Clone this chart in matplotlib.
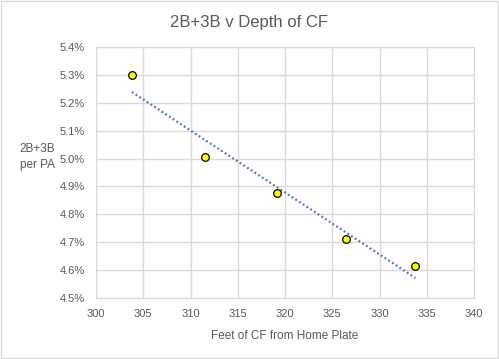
import matplotlib.pyplot as plt
import numpy as np
from matplotlib.patches import Rectangle

# feet of CF from home plate vs 2B+3B per PA (percent)
depth = [303.8, 311.5, 319.2, 326.5, 333.8]
xbh_pct = [5.30, 5.004, 4.878, 4.712, 4.614]

x_ticks = [300, 305, 310, 315, 320, 325, 330, 335, 340]
y_ticks = [4.5, 4.6, 4.7, 4.8, 4.9, 5.0, 5.1, 5.2, 5.3, 5.4]

plt.rcParams['font.family'] = ['Liberation Sans', 'DejaVu Sans']
txt = '#595959'

fig = plt.figure(figsize=(4.99, 3.59), dpi=100)
ax = fig.add_axes([96 / 499, 1 - 298 / 359, 378 / 499, 251 / 359])

# chart border
fig.patches.append(Rectangle((0.002, 0.003), 0.995, 0.994, transform=fig.transFigure,
                             fill=False, edgecolor='#d9d9d9', linewidth=1))

# linear trendline
k, b = np.polyfit(depth, xbh_pct, 1)
tx = np.array([depth[0], depth[-1]])
ax.plot(tx, k * tx + b, color='#4472C4', linewidth=1.6,
        linestyle=(0, (0.8, 1.2)), dash_capstyle='butt', zorder=2)

ax.plot(depth, xbh_pct, 'o', markersize=5.5, markerfacecolor='#FFFF00',
        markeredgecolor='black', markeredgewidth=0.9, zorder=3)

ax.set_xlim(300, 340)
ax.set_ylim(4.5, 5.4)
ax.set_xticks(x_ticks)
ax.set_yticks(y_ticks)
ax.set_yticklabels(['{:.1f}%'.format(v) for v in y_ticks])
ax.grid(True, color='#d9d9d9', linewidth=1)
ax.set_axisbelow(True)
for s in ax.spines.values():
    s.set_color('#d9d9d9')
ax.tick_params(length=0, colors=txt, labelsize=8, pad=8)

ax.set_xlabel('Feet of CF from Home Plate', color=txt, fontsize=8.5, labelpad=8)
fig.text(37 / 499, 1 - 157 / 359, '2B+3B\nper PA', color=txt, fontsize=8.5,
         ha='center', va='center', linespacing=1.4)
fig.text(249 / 499, 1 - 23 / 359, '2B+3B v Depth of CF', color=txt, fontsize=12,
         ha='center', va='center')

fig.savefig('out.png', dpi=100)
